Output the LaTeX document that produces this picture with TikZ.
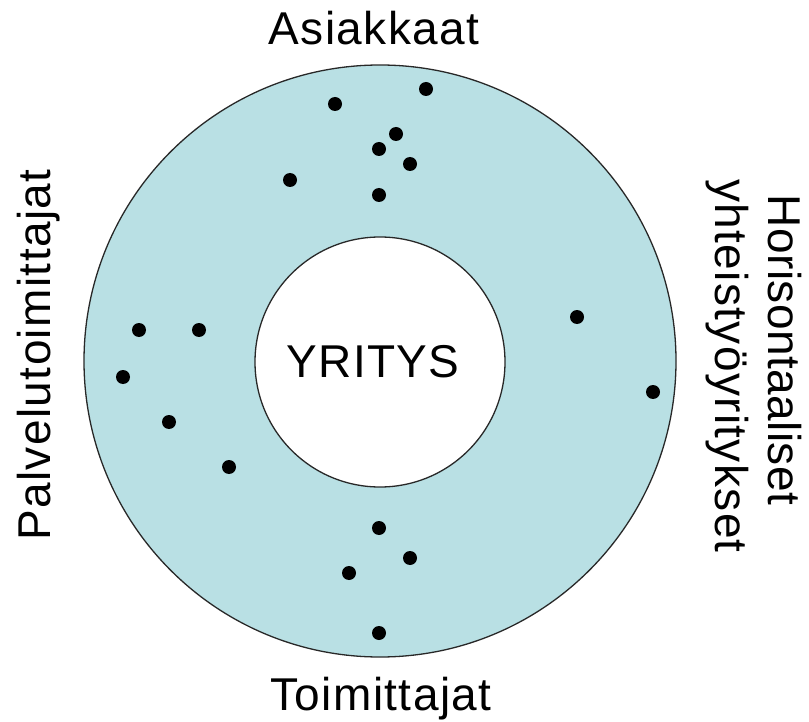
\documentclass[tikz,border=0pt]{standalone}
\usepackage{fontspec}
\setmainfont{Liberation Sans}
\newfontfamily\lblfont[LetterSpace=3]{Liberation Sans}
\newfontfamily\lbltight[LetterSpace=1]{Liberation Sans}
\definecolor{ringfill}{RGB}{185,224,228}
\definecolor{ringline}{RGB}{40,40,40}
\begin{document}
\begin{tikzpicture}[x=1pt,y=-1pt,
  ring/.style={circle,draw=ringline,line width=1.3pt,inner sep=0pt},
  actor/.style={circle,fill=black,inner sep=0pt,minimum size=14pt},
  lbl/.style={font=\lblfont\fontsize{46}{52}\selectfont,inner sep=0pt}]
\useasboundingbox (0,0) rectangle (809,722);
% outer ring and the company at its centre
\node[ring,fill=ringfill,minimum size=592pt] (outer) at (380,361) {};
\node[ring,fill=white,minimum size=250pt] (inner) at (380,362) {};
\node[lbl,anchor=base] (yritys) at (373,377) {YRITYS};
% stakeholder groups around the ring
\node[lbl,anchor=base] (asiakkaat) at (374,45) {Asiakkaat};
\node[lbl,anchor=base] (toimittajat) at (381,710) {Toimittajat};
\node[lbl,anchor=base,rotate=90] (palvelu) at (50,355) {Palvelutoimittajat};
\node[lbl,font=\lbltight\fontsize{46}{52}\selectfont,anchor=base,rotate=-90] (horis) at (768,350) {Horisontaaliset};
\node[lbl,anchor=base,rotate=-90] (yhteis) at (715,366) {yhteistyöyritykset};
% individual partners
\foreach \n/\x/\y in {a1/335/104, a2/426/89, a3/396/134, a4/379/149, a5/410/164,
    a6/290/180, a7/379/195,
    p1/139/330, p2/199/330, p3/123/377, p4/169/422, p5/229/467,
    h1/577/317, h2/653/392,
    t1/379/528, t2/410/558, t3/349/573, t4/379/633}
  \node[actor] (\n) at (\x,\y) {};
\end{tikzpicture}
\end{document}
